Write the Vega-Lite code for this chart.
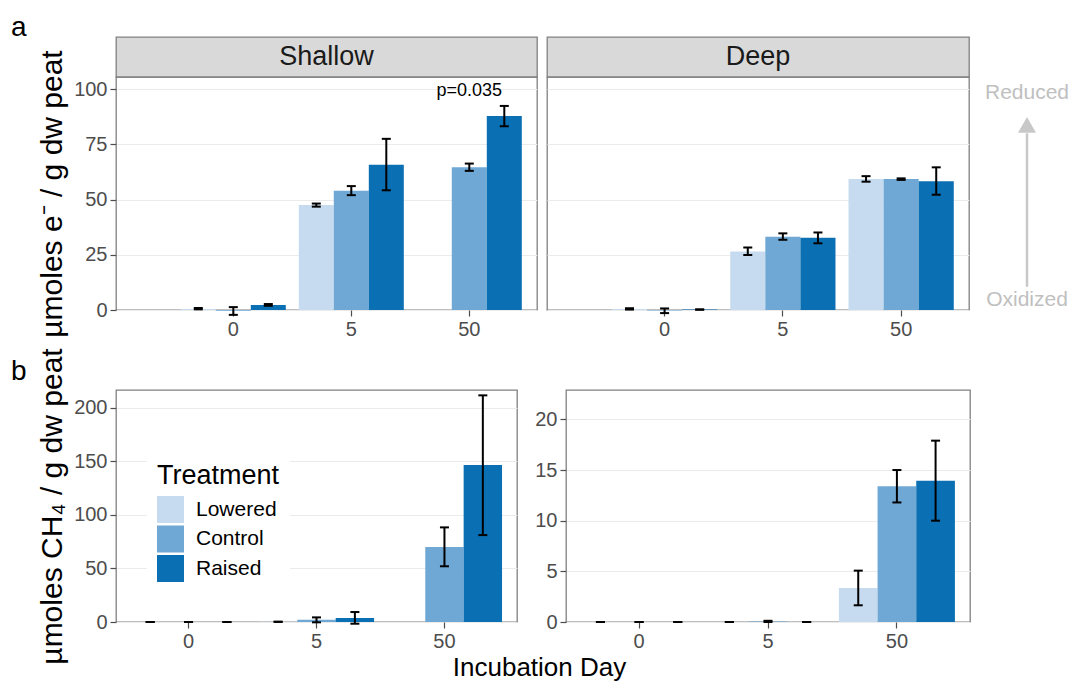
{
  "$schema": "https://vega.github.io/schema/vega-lite/v6.json",
  "padding": {"left": 10, "top": 14, "right": 0, "bottom": 0},
  "background": "white",
  "datasets": {
    "bars": [
      {"v": "e", "depth": "Shallow", "day": "0", "trt": "Lowered", "mean": 0.5, "lo": 0.3, "hi": 0.9},
      {"v": "e", "depth": "Shallow", "day": "0", "trt": "Control", "mean": -0.3, "lo": -2.2, "hi": 1.3},
      {"v": "e", "depth": "Shallow", "day": "0", "trt": "Raised", "mean": 2.3, "lo": 1.9, "hi": 2.7},
      {"v": "e", "depth": "Shallow", "day": "5", "trt": "Lowered", "mean": 47.5, "lo": 46.8, "hi": 48.2},
      {"v": "e", "depth": "Shallow", "day": "5", "trt": "Control", "mean": 54.0, "lo": 52.0, "hi": 56.1},
      {"v": "e", "depth": "Shallow", "day": "5", "trt": "Raised", "mean": 65.8, "lo": 54.2, "hi": 77.5},
      {"v": "e", "depth": "Shallow", "day": "50", "trt": "Control", "mean": 64.6, "lo": 63.0, "hi": 66.3},
      {"v": "e", "depth": "Shallow", "day": "50", "trt": "Raised", "mean": 87.8, "lo": 83.2, "hi": 92.4},
      {"v": "e", "depth": "Deep", "day": "0", "trt": "Lowered", "mean": 0.4, "lo": 0.2, "hi": 0.8},
      {"v": "e", "depth": "Deep", "day": "0", "trt": "Control", "mean": -0.2, "lo": -1.4, "hi": 0.7},
      {"v": "e", "depth": "Deep", "day": "0", "trt": "Raised", "mean": 0.2, "lo": 0.1, "hi": 0.3},
      {"v": "e", "depth": "Deep", "day": "5", "trt": "Lowered", "mean": 26.5, "lo": 24.9, "hi": 28.3},
      {"v": "e", "depth": "Deep", "day": "5", "trt": "Control", "mean": 33.2, "lo": 31.8, "hi": 34.7},
      {"v": "e", "depth": "Deep", "day": "5", "trt": "Raised", "mean": 32.7, "lo": 30.2, "hi": 35.1},
      {"v": "e", "depth": "Deep", "day": "50", "trt": "Lowered", "mean": 59.3, "lo": 58.1, "hi": 60.6},
      {"v": "e", "depth": "Deep", "day": "50", "trt": "Control", "mean": 59.3, "lo": 58.9, "hi": 59.6},
      {"v": "e", "depth": "Deep", "day": "50", "trt": "Raised", "mean": 58.3, "lo": 52.2, "hi": 64.6},
      {"v": "ch4", "depth": "Shallow", "day": "0", "trt": "Lowered", "mean": 0, "lo": 0, "hi": 0},
      {"v": "ch4", "depth": "Shallow", "day": "0", "trt": "Control", "mean": 0, "lo": 0, "hi": 0},
      {"v": "ch4", "depth": "Shallow", "day": "0", "trt": "Raised", "mean": 0, "lo": 0, "hi": 0},
      {"v": "ch4", "depth": "Shallow", "day": "5", "trt": "Lowered", "mean": 0.2, "lo": 0.1, "hi": 0.3},
      {"v": "ch4", "depth": "Shallow", "day": "5", "trt": "Control", "mean": 2.0, "lo": -0.3, "hi": 4.3},
      {"v": "ch4", "depth": "Shallow", "day": "5", "trt": "Raised", "mean": 3.8, "lo": -1.6, "hi": 9.3},
      {"v": "ch4", "depth": "Shallow", "day": "50", "trt": "Control", "mean": 70.0, "lo": 52.0, "hi": 88.3},
      {"v": "ch4", "depth": "Shallow", "day": "50", "trt": "Raised", "mean": 146.4, "lo": 81.1, "hi": 211.5},
      {"v": "ch4", "depth": "Deep", "day": "0", "trt": "Lowered", "mean": 0, "lo": 0, "hi": 0},
      {"v": "ch4", "depth": "Deep", "day": "0", "trt": "Control", "mean": 0, "lo": 0, "hi": 0},
      {"v": "ch4", "depth": "Deep", "day": "0", "trt": "Raised", "mean": 0, "lo": 0, "hi": 0},
      {"v": "ch4", "depth": "Deep", "day": "5", "trt": "Lowered", "mean": 0, "lo": 0, "hi": 0},
      {"v": "ch4", "depth": "Deep", "day": "5", "trt": "Control", "mean": 0.05, "lo": 0, "hi": 0.12},
      {"v": "ch4", "depth": "Deep", "day": "5", "trt": "Raised", "mean": 0, "lo": 0, "hi": 0},
      {"v": "ch4", "depth": "Deep", "day": "50", "trt": "Lowered", "mean": 3.36, "lo": 1.65, "hi": 5.07},
      {"v": "ch4", "depth": "Deep", "day": "50", "trt": "Control", "mean": 13.4, "lo": 11.8, "hi": 15.0},
      {"v": "ch4", "depth": "Deep", "day": "50", "trt": "Raised", "mean": 13.95, "lo": 10.0, "hi": 17.9}
    ],
    "notes": [
      {"v": "e", "depth": "Shallow", "day": "50", "label": "p=0.035", "ty": 99.2}
    ]
  },
  "config": {
    "font": "Liberation Sans",
    "view": {"stroke": "#808080", "strokeWidth": 1.3},
    "axis": {
      "labelFont": "Liberation Sans",
      "labelFontSize": 20,
      "labelColor": "#4d4d4d",
      "tickColor": "#4d4d4d",
      "tickSize": 6,
      "tickWidth": 1.2,
      "labelPadding": 3,
      "domain": false,
      "gridColor": "#ebebeb",
      "gridWidth": 1.2,
      "titleFont": "Liberation Sans",
      "titleFontWeight": "normal",
      "titleFontSize": 30,
      "titleColor": "black"
    },
    "axisX": {"grid": false, "labelAngle": 0, "title": null},
    "axisY": {"grid": true},
    "title": {"font": "Liberation Sans", "fontWeight": "normal", "color": "black"}
  },
  "title": {"text": "Incubation Day", "orient": "bottom", "anchor": "middle", "fontSize": 26, "offset": -10, "dx": -4},
  "spacing": 7,
  "resolve": {"scale": {"xOffset": "independent"}, "legend": {"color": "independent"}},
  "vconcat": [
    {
      "title": {"text": "a", "anchor": "start", "fontSize": 28, "offset": -6, "dx": -26},
      "spacing": 8,
      "resolve": {"scale": {"xOffset": "independent"}, "legend": {"color": "independent"}},
      "hconcat": [
        {
          "spacing": 0,
          "bounds": "flush",
          "resolve": {"scale": {"xOffset": "independent"}, "legend": {"color": "independent"}},
          "vconcat": [
            {
              "width": 421, "height": 40,
              "data": {"values": [{"panel": "Shallow"}]},
              "view": {"fill": "#d9d9d9", "stroke": "#808080", "strokeWidth": 1.3},
              "mark": {"type": "text", "fontSize": 27, "color": "#1a1a1a"},
              "encoding": {"text": {"field": "panel"}}
            },
            {
              "width": 421, "height": 233,
              "data": {"name": "bars"},
              "transform": [{"filter": "datum.v === 'e' && datum.depth === 'Shallow'"}],
              "encoding": {
                "x": {"field": "day", "type": "nominal", "scale": {"domain": ["0", "5", "50"], "paddingInner": 0.11, "paddingOuter": 0.339, "align": 0.81}}
              },
              "layer": [
                {
                  "mark": "bar",
                  "encoding": {
                    "xOffset": {"field": "trt", "type": "nominal", "scale": {"domain": ["Lowered", "Control", "Raised"], "paddingInner": 0, "paddingOuter": 0}},
                    "y": {"field": "mean", "type": "quantitative", "scale": {"domain": [0, 105.5], "nice": false, "zero": false}, "axis": {"values": [0, 25, 50, 75, 100], "title": "µmoles e⁻ / g dw peat", "titlePadding": 6}},
                    "color": {"field": "trt", "type": "nominal", "scale": {"domain": ["Lowered", "Control", "Raised"], "range": ["#c6dbef", "#6fa8d4", "#0b6fb3"]}, "legend": null}
                  }
                },
                {
                  "mark": {"type": "rule", "strokeWidth": 2, "color": "black"},
                  "encoding": {
                    "xOffset": {"field": "trt", "type": "nominal", "scale": {"domain": ["Lowered", "Control", "Raised"], "paddingInner": 0, "paddingOuter": 0}},
                    "y": {"field": "lo", "type": "quantitative"},
                    "y2": {"field": "hi"}
                  }
                },
                {
                  "mark": {"type": "tick", "orient": "horizontal", "size": 9, "thickness": 2, "color": "black", "opacity": 1},
                  "encoding": {
                    "xOffset": {"field": "trt", "type": "nominal", "scale": {"domain": ["Lowered", "Control", "Raised"], "paddingInner": 0, "paddingOuter": 0}},
                    "y": {"field": "lo", "type": "quantitative"}
                  }
                },
                {
                  "mark": {"type": "tick", "orient": "horizontal", "size": 9, "thickness": 2, "color": "black", "opacity": 1},
                  "encoding": {
                    "xOffset": {"field": "trt", "type": "nominal", "scale": {"domain": ["Lowered", "Control", "Raised"], "paddingInner": 0, "paddingOuter": 0}},
                    "y": {"field": "hi", "type": "quantitative"}
                  }
                },
                {
                  "data": {"name": "notes"},
                  "mark": {"type": "text", "fontSize": 18, "color": "black"},
                  "encoding": {
                    "y": {"field": "ty", "type": "quantitative"},
                    "text": {"field": "label"}
                  }
                }
              ]
            }
          ]
        },
        {
          "spacing": 0,
          "bounds": "flush",
          "resolve": {"scale": {"xOffset": "independent"}, "legend": {"color": "independent"}},
          "vconcat": [
            {
              "width": 422, "height": 40,
              "data": {"values": [{"panel": "Deep"}]},
              "view": {"fill": "#d9d9d9", "stroke": "#808080", "strokeWidth": 1.3},
              "mark": {"type": "text", "fontSize": 27, "color": "#1a1a1a"},
              "encoding": {"text": {"field": "panel"}}
            },
            {
              "width": 422, "height": 233,
              "data": {"name": "bars"},
              "transform": [{"filter": "datum.v === 'e' && datum.depth === 'Deep'"}],
              "encoding": {
                "x": {"field": "day", "type": "nominal", "scale": {"domain": ["0", "5", "50"], "paddingInner": 0.11, "paddingOuter": 0.339, "align": 0.81}},
                "xOffset": {"field": "trt", "type": "nominal", "scale": {"domain": ["Lowered", "Control", "Raised"], "paddingInner": 0, "paddingOuter": 0}}
              },
              "layer": [
                {
                  "mark": "bar",
                  "encoding": {
                    "y": {"field": "mean", "type": "quantitative", "scale": {"domain": [0, 105.5], "nice": false, "zero": false}, "axis": {"values": [0, 25, 50, 75, 100], "labels": false, "ticks": false, "title": null}},
                    "color": {"field": "trt", "type": "nominal", "scale": {"domain": ["Lowered", "Control", "Raised"], "range": ["#c6dbef", "#6fa8d4", "#0b6fb3"]}, "legend": null}
                  }
                },
                {
                  "mark": {"type": "rule", "strokeWidth": 2, "color": "black"},
                  "encoding": {"y": {"field": "lo", "type": "quantitative"}, "y2": {"field": "hi"}}
                },
                {
                  "mark": {"type": "tick", "orient": "horizontal", "size": 9, "thickness": 2, "color": "black", "opacity": 1},
                  "encoding": {"y": {"field": "lo", "type": "quantitative"}}
                },
                {
                  "mark": {"type": "tick", "orient": "horizontal", "size": 9, "thickness": 2, "color": "black", "opacity": 1},
                  "encoding": {"y": {"field": "hi", "type": "quantitative"}}
                }
              ]
            }
          ]
        },
        {
          "width": 98, "height": 273,
          "data": {"values": [{"label": "Reduced", "pos": 98.2}, {"label": "Oxidized", "pos": 4.5}]},
          "view": {"stroke": null},
          "layer": [
            {
              "mark": {"type": "text", "fontSize": 21, "color": "#c0c0c0"},
              "encoding": {
                "y": {"field": "pos", "type": "quantitative", "scale": {"domain": [0, 123.6], "nice": false, "zero": false}, "axis": null},
                "text": {"field": "label"}
              }
            },
            {
              "transform": [{"filter": "datum.label === 'Reduced'"}],
              "mark": {"type": "rule", "color": "#c8c8c8", "strokeWidth": 2.5},
              "encoding": {"y": {"datum": 10.5, "type": "quantitative"}, "y2": {"datum": 80}}
            },
            {
              "transform": [{"filter": "datum.label === 'Reduced'"}],
              "mark": {"type": "point", "shape": "triangle-up", "filled": true, "color": "#c8c8c8", "size": 324, "opacity": 1},
              "encoding": {"y": {"datum": 83.8, "type": "quantitative"}}
            }
          ]
        }
      ]
    },
    {
      "title": {"text": "b", "anchor": "start", "fontSize": 28, "offset": -39, "dx": -26},
      "spacing": 16,
      "resolve": {"scale": {"xOffset": "independent"}, "legend": {"color": "independent"}},
      "hconcat": [
        {
          "width": 401, "height": 232,
          "data": {"name": "bars"},
          "transform": [{"filter": "datum.v === 'ch4' && datum.depth === 'Shallow'"}],
          "encoding": {
            "x": {"field": "day", "type": "nominal", "scale": {"domain": ["0", "5", "50"], "paddingInner": 0.1, "paddingOuter": 0.117, "align": 0.5}},
            "xOffset": {"field": "trt", "type": "nominal", "scale": {"domain": ["Lowered", "Control", "Raised"], "paddingInner": 0, "paddingOuter": 0}}
          },
          "layer": [
            {
              "mark": "bar",
              "encoding": {
                "y": {"field": "mean", "type": "quantitative", "scale": {"domain": [0, 216.5], "nice": false, "zero": false}, "axis": {"values": [0, 50, 100, 150, 200], "title": "µmoles CH₄ / g dw peat", "titlePadding": 6}},
                "color": {
                  "field": "trt", "type": "nominal",
                  "scale": {"domain": ["Lowered", "Control", "Raised"], "range": ["#c6dbef", "#6fa8d4", "#0b6fb3"]},
                  "legend": {
                    "title": "Treatment", "orient": "none", "legendX": 31, "legendY": 63,
                    "padding": 10, "fillColor": "white",
                    "titleFontSize": 27, "titleFontWeight": "normal", "titleColor": "black", "titlePadding": 6,
                    "labelFontSize": 21, "labelColor": "black", "labelOffset": 12,
                    "symbolType": "square", "symbolSize": 729, "symbolStrokeWidth": 0, "symbolOpacity": 1,
                    "rowPadding": 2.5
                  }
                }
              }
            },
            {
              "mark": {"type": "rule", "strokeWidth": 2, "color": "black"},
              "encoding": {"y": {"field": "lo", "type": "quantitative"}, "y2": {"field": "hi"}}
            },
            {
              "mark": {"type": "tick", "orient": "horizontal", "size": 9, "thickness": 2, "color": "black", "opacity": 1},
              "encoding": {"y": {"field": "lo", "type": "quantitative"}}
            },
            {
              "mark": {"type": "tick", "orient": "horizontal", "size": 9, "thickness": 2, "color": "black", "opacity": 1},
              "encoding": {"y": {"field": "hi", "type": "quantitative"}}
            }
          ]
        },
        {
          "width": 404, "height": 232,
          "data": {"name": "bars"},
          "transform": [{"filter": "datum.v === 'ch4' && datum.depth === 'Deep'"}],
          "encoding": {
            "x": {"field": "day", "type": "nominal", "scale": {"domain": ["0", "5", "50"], "paddingInner": 0.1, "paddingOuter": 0.117, "align": 0.5}},
            "xOffset": {"field": "trt", "type": "nominal", "scale": {"domain": ["Lowered", "Control", "Raised"], "paddingInner": 0, "paddingOuter": 0}}
          },
          "layer": [
            {
              "mark": "bar",
              "encoding": {
                "y": {"field": "mean", "type": "quantitative", "scale": {"domain": [0, 22.9], "nice": false, "zero": false}, "axis": {"values": [0, 5, 10, 15, 20], "title": null}},
                "color": {"field": "trt", "type": "nominal", "scale": {"domain": ["Lowered", "Control", "Raised"], "range": ["#c6dbef", "#6fa8d4", "#0b6fb3"]}, "legend": null}
              }
            },
            {
              "mark": {"type": "rule", "strokeWidth": 2, "color": "black"},
              "encoding": {"y": {"field": "lo", "type": "quantitative"}, "y2": {"field": "hi"}}
            },
            {
              "mark": {"type": "tick", "orient": "horizontal", "size": 9, "thickness": 2, "color": "black", "opacity": 1},
              "encoding": {"y": {"field": "lo", "type": "quantitative"}}
            },
            {
              "mark": {"type": "tick", "orient": "horizontal", "size": 9, "thickness": 2, "color": "black", "opacity": 1},
              "encoding": {"y": {"field": "hi", "type": "quantitative"}}
            }
          ]
        }
      ]
    }
  ]
}
